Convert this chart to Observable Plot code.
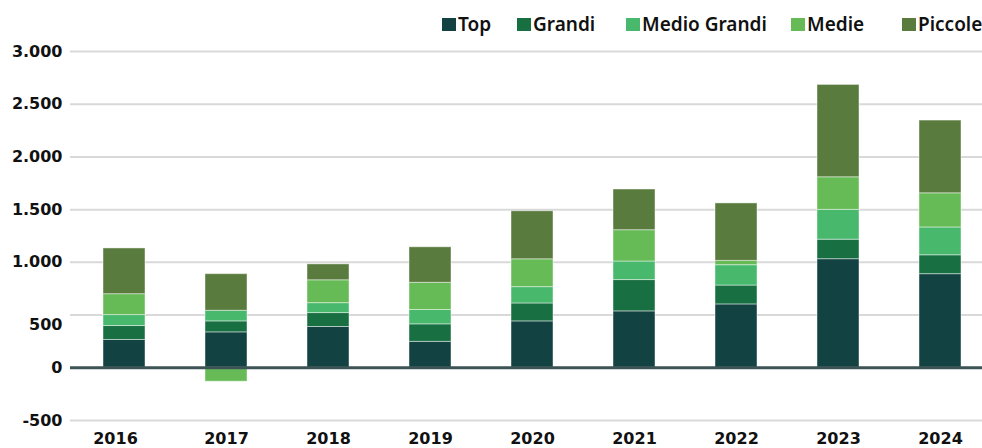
<!DOCTYPE html>
<html>
<head>
<meta charset="utf-8">
<script src="https://cdn.jsdelivr.net/npm/d3@7"></script>
<script src="https://cdn.jsdelivr.net/npm/@observablehq/plot@0.6"></script>
<style>
  html, body { margin: 0; padding: 0; background: #fff; }
  #wrap { position: relative; width: 982px; height: 448px; }
  #legend { position: absolute; top: 0; left: 0; width: 982px; height: 40px; font-family: "Noto Sans", sans-serif; font-weight: 600; font-size: 19px; color: #111; }
  .item { position: absolute; top: 11px; display: flex; align-items: center; white-space: nowrap; }
  .sw { width: 14px; height: 13px; margin-right: 2px; }
  #chart { position: absolute; top: 0; left: 0; }
</style>
</head>
<body>
<div id="wrap">
  <div id="chart"></div>
  <div id="legend"></div>
</div>
<script>
const years = ["2016", "2017", "2018", "2019", "2020", "2021", "2022", "2023", "2024"];
const series = ["Top", "Grandi", "Medio Grandi", "Medie", "Piccole"];
const colors = ["#124241", "#186f42", "#48b86d", "#66bb56", "#5a7b3e"];

const topValues     = [264, 336, 387, 246, 440, 535, 601, 1030, 888];
const grandiValues  = [132, 104, 132, 166, 170, 297, 179, 185, 179];
const medioGrandiValues = [104, 101, 94, 136, 155, 176, 193, 283, 264];
const medieValues   = [198, -132, 217, 258, 264, 297, 41, 309, 324];
const piccoleValues = [434, 347, 151, 337, 456, 386, 545, 876, 690];

const yTicks = [-500, 0, 500, 1000, 1500, 2000, 2500, 3000];
const legendX = [442, 517, 626, 791, 902];

const valuesBySeries = [topValues, grandiValues, medioGrandiValues, medieValues, piccoleValues];
const data = series.flatMap((s, i) => valuesBySeries[i].map((v, j) => ({year: years[j], series: s, value: v})));

const loc = d3.formatLocale({decimal: ",", thousands: ".", grouping: [3], currency: ["€", ""], minus: "-"});
const fmt = loc.format(",");

const axisStyle = {tickSize: 0, fontSize: 16, fontWeight: "bold", fill: "#111"};

const chart = Plot.plot({
  width: 982,
  height: 448,
  marginTop: 51,
  marginBottom: 28,
  marginLeft: 70,
  marginRight: 0,
  style: {fontFamily: "DejaVu Sans", fontWeight: "bold", fontSize: "16px", color: "#111", background: "transparent"},
  x: {domain: years, range: [71, 992], paddingInner: 0.59, paddingOuter: 0.295, label: null},
  y: {domain: [-500, 3000], label: null},
  color: {domain: series, range: colors},
  marks: [
    Plot.ruleY(yTicks, {stroke: "#d9d9d9", strokeWidth: 2}),
    Plot.barY(data, {x: "year", y: "value", fill: "series", stroke: "#ffffff", strokeOpacity: 0.45, strokeWidth: 1}),
    Plot.ruleY([0], {stroke: "#3d5457", strokeWidth: 3}),
    Plot.axisY(yTicks.filter(d => d !== 500), {...axisStyle, tickPadding: 8, tickFormat: fmt}),
    Plot.axisY([500], {...axisStyle, tickPadding: 8, tickFormat: fmt, dy: 10}),
    Plot.axisX(years.slice(1), {...axisStyle, tickPadding: 12}),
    Plot.axisX(years.slice(0, 1), {...axisStyle, tickPadding: 12, dx: -9})
  ]
});
document.getElementById("chart").appendChild(chart);

const legend = document.getElementById("legend");
series.forEach((s, i) => {
  const it = document.createElement("div");
  it.className = "item";
  it.style.left = legendX[i] + "px";
  const sw = document.createElement("span");
  sw.className = "sw";
  sw.style.background = colors[i];
  const t = document.createElement("span");
  t.textContent = s;
  it.appendChild(sw);
  it.appendChild(t);
  legend.appendChild(it);
});
</script>
</body>
</html>
